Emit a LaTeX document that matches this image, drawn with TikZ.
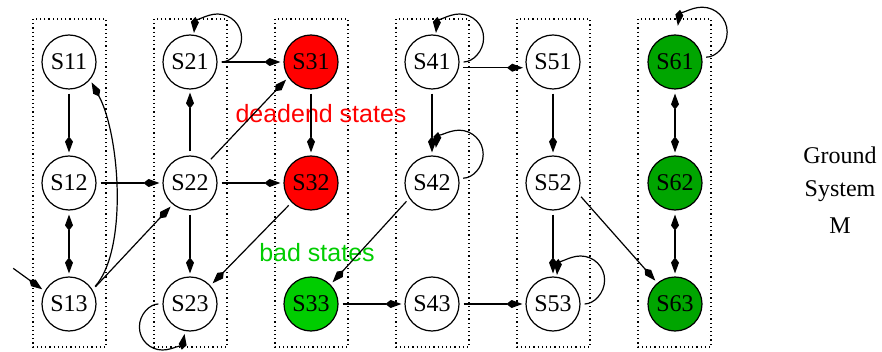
\documentclass[tikz,border=0pt]{standalone}
\usepackage{fontspec}
\setmainfont{Liberation Serif}
\newfontfamily\labelfont{Liberation Sans}
\usetikzlibrary{arrows.meta}
\definecolor{deadred}{RGB}{255,0,0}
\definecolor{badgreen}{RGB}{0,205,0}
\definecolor{safegreen}{RGB}{0,165,0}

\begin{document}
\begin{tikzpicture}
[x=0.5pt,y=-0.5pt,
state/.style={circle,draw=black,line width=0.6pt,inner sep=0pt,minimum size=27pt,font=\fontsize{12}{14}\selectfont},
dead/.style={state,fill=deadred},
bad/.style={state,fill=badgreen},
good/.style={state,fill=safegreen},
arr/.style={line width=0.6pt,-{Kite[length=8pt,width=4pt,inset=2.6pt]},shorten >=1.5pt,shorten <=2pt},
darr/.style={arr,{Kite[length=8pt,width=4pt,inset=2.6pt]}-{Kite[length=8pt,width=4pt,inset=2.6pt]}},
column/.style={line width=0.6pt,dash pattern=on 0.6pt off 1.5pt},
note/.style={font=\labelfont\fontsize{12.5}{15}\selectfont}]
\useasboundingbox (0,0) rectangle (882,352);

% dotted columns
\draw[column] (33,19) rectangle (106,347);
\draw[column] (154,19) rectangle (227,347);
\draw[column] (275,19) rectangle (348,347);
\draw[column] (396,19) rectangle (469,347);
\draw[column] (517,19) rectangle (590,347);
\draw[column] (638,19) rectangle (711,347);

\node[state] (s11) at (69,62) {S11};
\node[state] (s12) at (69,183) {S12};
\node[state] (s13) at (69,304) {S13};

\node[state] (s21) at (190,62) {S21};
\node[state] (s22) at (190,183) {S22};
\node[state] (s23) at (190,304) {S23};

\node[dead] (s31) at (311,62) {S31};
\node[dead] (s32) at (311,183) {S32};
\node[bad] (s33) at (311,304) {S33};

\node[state] (s41) at (432,62) {S41};
\node[state] (s42) at (432,183) {S42};
\node[state] (s43) at (432,304) {S43};

\node[state] (s51) at (553,62) {S51};
\node[state] (s52) at (553,183) {S52};
\node[state] (s53) at (553,304) {S53};

\node[good] (s61) at (675,62) {S61};
\node[good] (s62) at (675,183) {S62};
\node[good] (s63) at (675,304) {S63};

\node[note,text=deadred] (deadlbl) at (321,114) {deadend states};
\node[note,text=badgreen] (badlbl) at (317,253) {bad states};
\node[align=center,font=\fontsize{12}{16.5}\selectfont] (gsys) at (840,190) {Ground\\System\\[2pt]M};

\coordinate (init) at (10,266);

% transitions
\draw[arr] (init) -- (s13.152);
\draw[arr] (s11) -- (s12);
\draw[darr] (s12) -- (s13);
\draw[arr] (s13.32) .. controls (128,250) and (120,135) .. (s11.-40);
\draw[arr] (s12) -- (s22);
\draw[arr] (s13.31) -- (s22.231);

\draw[arr] (s22) -- (s21);
\draw[arr] (s21.east) arc[start angle=90,end angle=-175,radius=24];
\draw[arr] (s21) -- (s31);
\draw[arr] (s22.49) -- (s31.214);
\draw[arr] (s22) -- (s32);
\draw[arr] (s22) -- (s23);
\draw[arr] (s32.225) -- (s23.42);
\draw[arr] (s23.west) arc[start angle=-90,end angle=-350,radius=23];

\draw[arr] (s31) -- (s32);
\draw[arr] (s33) -- (s43);
\draw[arr] (s42.214) -- (s33.45);

\draw[arr] (s41.east) arc[start angle=90,end angle=-175,radius=24];
\draw[arr] (s41.-12) -- (s51.192);
\draw[arr] (s41) -- (s42);
\draw[arr] (s42.10) arc[start angle=90,end angle=-172,radius=24];
\draw[arr] (s43) -- (s53);

\draw[arr] (s51) -- (s52);
\draw[arr] (s52) -- (s53);
\draw[arr] (s53.east) arc[start angle=90,end angle=-175,radius=24];
\draw[arr] (s52.-23) -- (s63.130);

\draw[arr] (s61.10) arc[start angle=90,end angle=-172,radius=25];
\draw[darr] (s61) -- (s62);
\draw[darr] (s62) -- (s63);
\end{tikzpicture}
\end{document}
